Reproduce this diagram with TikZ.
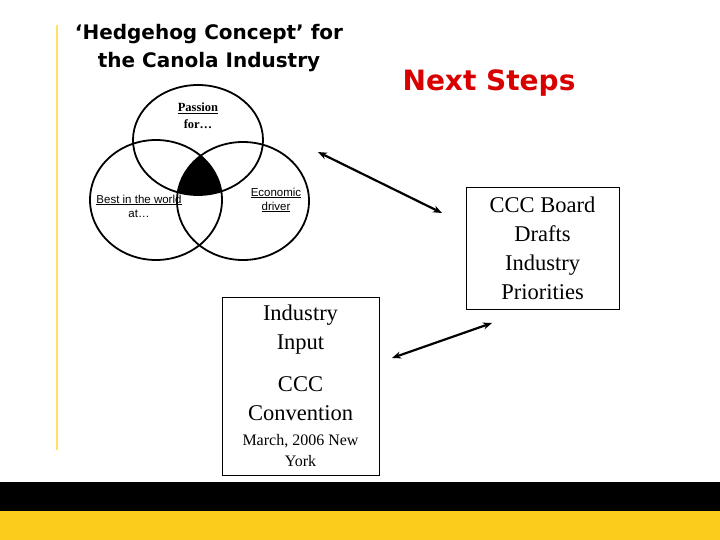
\documentclass[tikz,border=0pt]{standalone}
\usepackage{fontspec}
\setmainfont{Liberation Serif}
\newfontfamily\arialf{Liberation Sans}
\newfontfamily\verdf{DejaVu Sans}
\usetikzlibrary{arrows.meta}
\newcommand\smallm{\fontsize{16}{21}\selectfont}
\begin{document}
\begin{tikzpicture}[x=1pt,y=-1pt,
  venn/.style={draw=black,line width=1.8pt},
  dbl/.style={{Stealth[length=9pt,width=7pt]}-{Stealth[length=9pt,width=7pt]},line width=2.2pt},
  box/.style={draw=black,line width=0.8pt,align=center}]
\useasboundingbox (0,0) rectangle (720,540);
\fill[white] (0,0) rectangle (720,540);
\fill[black] (0,482) rectangle (720,511);
\fill[yellow!60!orange!90] (0,511) rectangle (720,540);
\draw[yellow!70!orange!60,line width=2.5pt] (57,25) -- (57,450);
\node[font=\verdf\bfseries\fontsize{20}{28}\selectfont,align=center] (title) at (209,48) {‘Hedgehog Concept’ for\\the Canola Industry};
\node[font=\verdf\bfseries\fontsize{28}{32}\selectfont,text=red!85!black] (next) at (489,83) {Next Steps};
\begin{scope}
\clip (198,140) ellipse [x radius=65,y radius=55];
\clip (156,200) ellipse [x radius=66,y radius=60];
\fill[black] (243,201) ellipse [x radius=66,y radius=59];
\end{scope}
\draw[venn] (198,140) ellipse [x radius=65,y radius=55];
\draw[venn] (156,200) ellipse [x radius=66,y radius=60];
\draw[venn] (243,201) ellipse [x radius=66,y radius=59];
\node[font=\fontsize{12.5}{17}\selectfont\bfseries,align=center] (pas) at (198,116) {\underline{Passion}\\for…};
\node[font=\arialf\fontsize{11.5}{14}\selectfont,align=center] (best) at (139,206) {\underline{Best in the world}\\at…};
\node[font=\arialf\fontsize{11.5}{14}\selectfont,align=center] (eco) at (276,200) {\underline{Economic}\\\underline{driver}};
\node[box,minimum width=153,minimum height=122,inner sep=2pt,font=\fontsize{22.5}{29}\selectfont] (board) at (542.5,248) {CCC Board\\Drafts\\Industry\\Priorities};
\node[box,minimum width=157,minimum height=178,inner sep=2pt,font=\fontsize{22.5}{29}\selectfont] (conv) at (300.5,386) {Industry\\Input\\[13pt]CCC\\Convention\\[-4pt]{\smallm March, 2006 New}\\[-8pt]{\smallm York}};
\coordinate (a1) at (318,152); \coordinate (a2) at (442,213);
\coordinate (b1) at (392,358); \coordinate (b2) at (492,323);
\draw[dbl] (a1) -- (a2);
\draw[dbl] (b1) -- (b2);
\end{tikzpicture}
\end{document}
